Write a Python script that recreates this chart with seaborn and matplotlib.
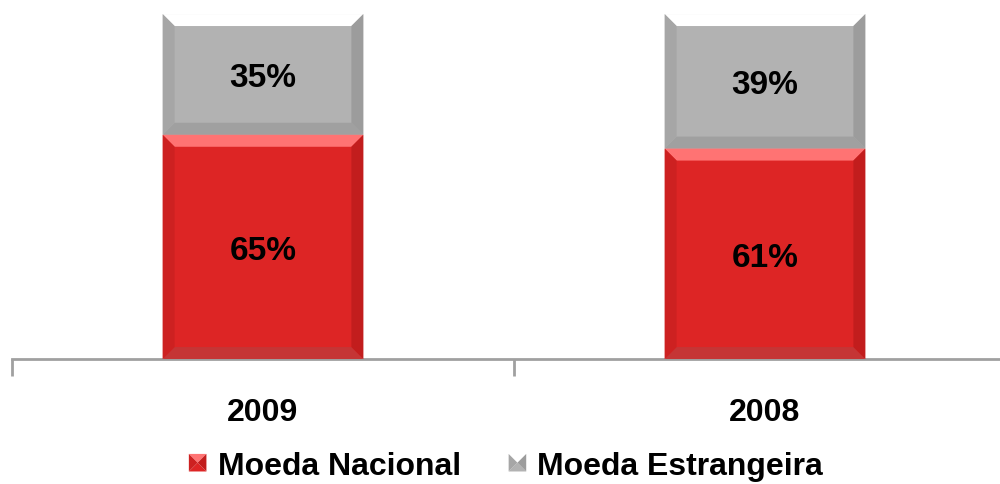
import pandas as pd
import seaborn as sns
import matplotlib.pyplot as plt
from matplotlib.patches import Polygon, Patch
from matplotlib.legend_handler import HandlerPatch

# chart data
years = ['2009', '2008']
nacional = [65, 61]
estrangeira = [35, 39]
legend_labels = ['Moeda Nacional', 'Moeda Estrangeira']

RED = '#dd2525'
GRAY = '#b2b2b2'
# bevel colours: top, bottom, left, right
RED_BEV = ['#ff7373', '#c53535', '#cd2121', '#c21d1d']
GRAY_BEV = ['#ffffff', '#a0a0a0', '#a6a6a6', '#9c9c9c']

sns.set_style('white')
plt.rcParams['font.family'] = ['Liberation Sans', 'DejaVu Sans']
plt.rcParams['text.color'] = 'black'
plt.rcParams['xtick.color'] = '#a0a0a0'
plt.rcParams['xtick.labelcolor'] = 'black'

df = pd.DataFrame({'ano': years, 'nac': nacional,
                   'total': [n + e for n, e in zip(nacional, estrangeira)]})

fig = plt.figure(figsize=(10, 4.85), dpi=100)
ax = fig.add_axes([0.012, 0.2577, 1.004, 0.7113])

sns.barplot(data=df, x='ano', y='total', color=GRAY, width=0.4, saturation=1,
            linewidth=0, ax=ax)
sns.barplot(data=df, x='ano', y='nac', color=RED, width=0.4, saturation=1,
            linewidth=0, ax=ax)

ax.set_xlim(-0.5, 1.5)
ax.set_ylim(0, 100)


def bevel(ax, x0, x1, y0, y1, bx, by, cols):
    polys = [
        [(x0, y1), (x1, y1), (x1 - bx, y1 - by), (x0 + bx, y1 - by)],
        [(x0, y0), (x1, y0), (x1 - bx, y0 + by), (x0 + bx, y0 + by)],
        [(x0, y0), (x0 + bx, y0 + by), (x0 + bx, y1 - by), (x0, y1)],
        [(x1, y0), (x1 - bx, y0 + by), (x1 - bx, y1 - by), (x1, y1)],
    ]
    for p, c in zip(polys, cols):
        ax.add_patch(Polygon(p, closed=True, facecolor=c, edgecolor='none',
                             clip_on=False, zorder=3))


# bevel size ~12 px converted to data units
bx = 12 * 2 / 1004
by = 12 * 100 / 345

gray_bars = ax.containers[0]
red_bars = ax.containers[1]
for i, (gp, rp) in enumerate(zip(gray_bars, red_bars)):
    x0 = gp.get_x()
    x1 = x0 + gp.get_width()
    n = nacional[i]
    e = estrangeira[i]
    bevel(ax, x0, x1, n, n + e, bx, by, GRAY_BEV)
    bevel(ax, x0, x1, 0, n, bx, by, RED_BEV)
    ax.text(i, n / 2, f'{n}%', ha='center', va='center_baseline', fontsize=24,
            fontweight='bold', color='black', zorder=4)
    ax.text(i, n + e / 2, f'{e}%', ha='center', va='center_baseline',
            fontsize=24, fontweight='bold', color='black', zorder=4)

for s in ['top', 'right', 'left']:
    ax.spines[s].set_visible(False)
ax.spines['bottom'].set_color('#a0a0a0')
ax.spines['bottom'].set_linewidth(2)

ax.set_xticks([-0.5, 0.5, 1.5])
ax.set_xticklabels([])
ax.tick_params(axis='x', which='major', bottom=True, length=12, width=2,
               color='#a0a0a0', direction='out')
ax.set_xticks([0, 1], minor=True)
ax.set_xticklabels(years, minor=True, fontsize=23, fontweight='bold',
                   color='black')
ax.tick_params(axis='x', which='minor', length=0, pad=27)
ax.set_yticks([])
ax.set_xlabel('')
ax.set_ylabel('')


class BevelHandler(HandlerPatch):
    def __init__(self, face, cols):
        super().__init__()
        self.face = face
        self.cols = cols

    def create_artists(self, legend, orig_handle, xdescent, ydescent, width,
                       height, fontsize, trans):
        s = min(width, height)
        x0 = -xdescent + (width - s) / 2
        y0 = -ydescent + (height - s) / 2
        x1, y1 = x0 + s, y0 + s
        b = s * 0.5
        polys = [
            [(x0, y1), (x1, y1), (x1 - b, y1 - b), (x0 + b, y1 - b)],
            [(x0, y0), (x1, y0), (x1 - b, y0 + b), (x0 + b, y0 + b)],
            [(x0, y0), (x0 + b, y0 + b), (x0 + b, y1 - b), (x0, y1)],
            [(x1, y0), (x1 - b, y0 + b), (x1 - b, y1 - b), (x1, y1)],
        ]
        cols = [self.cols[0], self.face, self.cols[2], self.cols[3]]
        out = []
        for p, c in zip(polys, cols):
            pg = Polygon(p, closed=True, facecolor=c, edgecolor='none')
            pg.set_transform(trans)
            out.append(pg)
        return out


h_red = Patch(facecolor=RED, label=legend_labels[0])
h_gray = Patch(facecolor=GRAY, label=legend_labels[1])
leg = fig.legend(handles=[h_red, h_gray], loc='center',
                 bbox_to_anchor=(0.506, 1 - 467 / 485), ncol=2, frameon=False,
                 prop=dict(weight='bold', size=23), handlelength=0.55,
                 handleheight=0.55, handletextpad=0.35, columnspacing=1.5,
                 handler_map={h_red: BevelHandler(RED, RED_BEV),
                              h_gray: BevelHandler(GRAY, GRAY_BEV)})
for t in leg.get_texts():
    t.set_color('black')

fig.savefig('out.png', dpi=100)
